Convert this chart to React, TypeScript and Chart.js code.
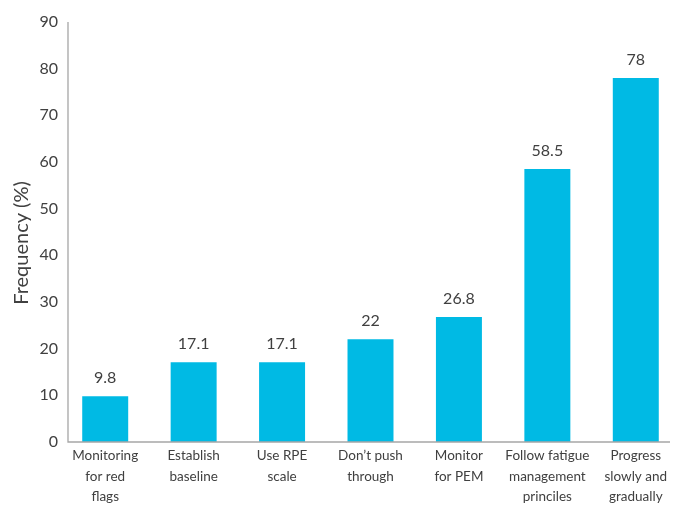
import React, { useEffect, useRef } from "react";
import { Chart, registerables } from "chart.js";

Chart.register(...registerables);

const categories: string[][] = [
  ["Monitoring", "for red", "flags"],
  ["Establish", "baseline"],
  ["Use RPE", "scale"],
  ["Don\u2019t push", "through"],
  ["Monitor", "for PEM"],
  ["Follow fatigue", "management", "princiles"],
  ["Progress", "slowly and", "gradually"],
];
const values: number[] = [9.8, 17.1, 17.1, 22, 26.8, 58.5, 78];
const valueLabels: string[] = ["9.8", "17.1", "17.1", "22", "26.8", "58.5", "78"];
const yTicks: number[] = [0, 10, 20, 30, 40, 50, 60, 70, 80, 90];
const yTitle = "Frequency (%)";

const FONT = "Lato";
const TEXT = "#404040";
const AXIS = "#A6A6A6";

const axesPlugin = {
  id: "axesLines",
  afterDraw(chart: any) {
    const { ctx, chartArea } = chart;
    const x0 = chartArea.left + 7;
    const x1 = chartArea.right - 10;
    ctx.save();
    ctx.strokeStyle = AXIS;
    ctx.lineWidth = 1.3;
    ctx.beginPath();
    ctx.moveTo(x0, chartArea.top);
    ctx.lineTo(x0, chartArea.bottom);
    ctx.lineTo(x1, chartArea.bottom);
    ctx.stroke();
    // y-axis title
    ctx.fillStyle = TEXT;
    ctx.font = `20px ${FONT}`;
    ctx.textAlign = "center";
    ctx.textBaseline = "middle";
    ctx.translate(22, (chartArea.top + chartArea.bottom) / 2 + 11);
    ctx.rotate(-Math.PI / 2);
    ctx.fillText(yTitle, 0, 0);
    ctx.restore();
  },
};

const labelPlugin = {
  id: "valueLabels",
  afterDatasetsDraw(chart: any) {
    const { ctx } = chart;
    const meta = chart.getDatasetMeta(0);
    ctx.save();
    ctx.fillStyle = TEXT;
    ctx.font = `16px ${FONT}`;
    ctx.textAlign = "center";
    ctx.textBaseline = "middle";
    meta.data.forEach((bar: any, i: number) => {
      ctx.fillText(valueLabels[i], bar.x, bar.y - 18);
    });
    ctx.restore();
  },
};

export default function App() {
  const ref = useRef<HTMLCanvasElement | null>(null);
  useEffect(() => {
    if (!ref.current) return;
    const chart = new Chart(ref.current, {
      type: "bar",
      data: {
        labels: categories,
        datasets: [
          {
            data: values,
            backgroundColor: "#00BAE4",
            borderWidth: 0,
            categoryPercentage: 1,
            barPercentage: 0.52,
          },
        ],
      },
      options: {
        animation: false,
        responsive: false,
        maintainAspectRatio: false,
        layout: { padding: { left: 0, right: 0, top: 22, bottom: 0 } },
        plugins: {
          legend: { display: false },
          tooltip: { enabled: false },
          title: { display: false },
        },
        scales: {
          x: {
            grid: { display: false, drawTicks: false },
            border: { display: false },
            ticks: {
              color: TEXT,
              font: { family: FONT, size: 13.5, lineHeight: 1.5 },
              padding: 4,
              maxRotation: 0,
              autoSkip: false,
            },
            afterFit(scale: any) {
              scale.height = 63;
            },
          },
          y: {
            min: 0,
            max: 90,
            grid: { display: false, drawTicks: false },
            border: { display: false },
            afterBuildTicks(scale: any) {
              scale.ticks = yTicks.map((v) => ({ value: v }));
            },
            ticks: {
              color: TEXT,
              font: { family: FONT, size: 16 },
              padding: 3,
            },
            afterFit(scale: any) {
              scale.width = 61;
            },
          },
        },
      },
      plugins: [axesPlugin, labelPlugin],
    });
    return () => chart.destroy();
  }, []);
  return (
    <div style={{ position: "fixed", left: 0, top: 0, width: 680, height: 505, background: "#fff" }}>
      <canvas ref={ref} width={680} height={505} style={{ width: 680, height: 505 }} />
    </div>
  );
}
